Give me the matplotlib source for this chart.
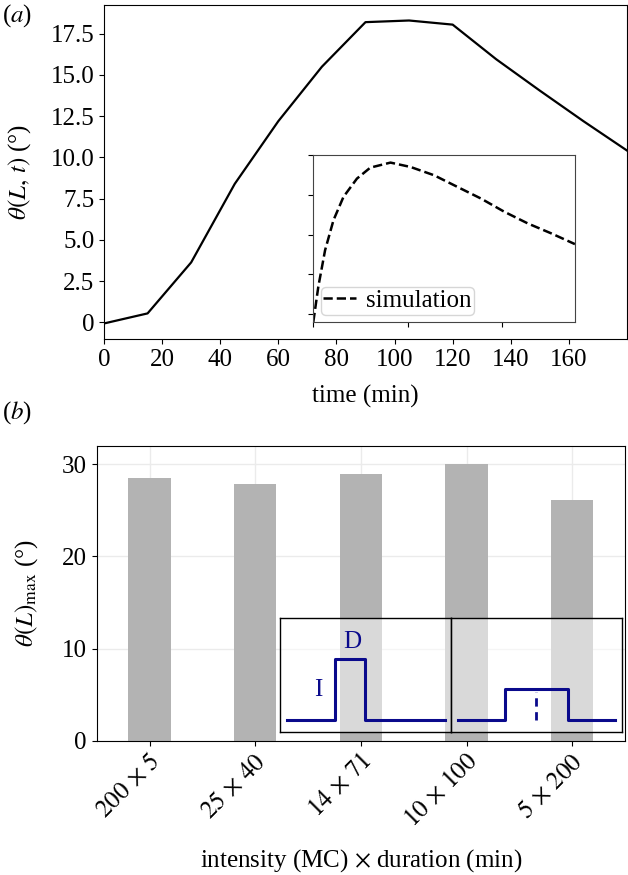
import matplotlib
matplotlib.use("Agg")
import matplotlib.pyplot as plt
import numpy as np

plt.rcParams["font.family"] = "serif"
plt.rcParams["font.serif"] = ["Liberation Serif", "DejaVu Serif"]
plt.rcParams["mathtext.fontset"] = "stix"

# ---- panel (a): measured tip angle over time
time_min = [0, 15, 30, 45, 60, 75, 90, 105, 120, 135, 150, 165, 180]
theta_exp = [-0.06, 0.55, 3.64, 8.4, 12.2, 15.5, 18.2, 18.3, 18.05, 15.95, 14.05, 12.2, 10.42]
a_yticks = [0, 2.5, 5, 7.5, 10, 12.5, 15, 17.5]
a_yticklabels = ["0", "2.5", "5.0", "7.5", "10.0", "12.5", "15.0", "17.5"]
a_xticks = [0, 20, 40, 60, 80, 100, 120, 140, 160]

# inset of (a): simulation curve
sim_t = [0, 5.3, 12.5, 21.4, 32.0, 46.3, 60.5, 81.9, 103.2, 128.1, 153.0, 177.9, 202.8, 227.8, 252.7, 277.6]
sim_theta = [-1.0, 3.43, 8.03, 11.8, 14.73, 17.03, 18.41, 19.04, 18.49, 17.45, 15.98, 14.52,
             12.85, 11.38, 10.13, 8.79]

# ---- panel (b): max angle per stimulation protocol
protocols = [r"$200\,\times\,5$", r"$25\,\times\,40$", r"$14\,\times\,71$",
             r"$10\,\times\,100$", r"$5\,\times\,200$"]
theta_max = [28.5, 27.8, 28.9, 30.0, 26.1]

# schematic stimulation profiles (inset of (b), unit box)
left_t = [0.04, 0.32, 0.32, 0.50, 0.50, 0.965]
left_v = [0.10, 0.10, 0.64, 0.64, 0.10, 0.10]
right_t = [0.042, 0.316, 0.316, 0.684, 0.684, 0.96]
right_v = [0.10, 0.10, 0.374, 0.374, 0.10, 0.10]

fs = 18
navy = "#0a0a8c"

fig = plt.figure(figsize=(6.28, 8.75), dpi=100)

# panel (a)
ax1 = fig.add_axes([0.1656, 0.6126, 0.8328, 0.3817])
ax1.plot(time_min, theta_exp, color="black", lw=1.6)
ax1.set_xlim(0, 180)
ax1.set_ylim(-1.0, 19.24)
ax1.set_xticks(a_xticks)
ax1.set_yticks(a_yticks)
ax1.set_yticklabels(a_yticklabels)
ax1.tick_params(labelsize=fs)
ax1.set_xlabel("time (min)", fontsize=fs)
ax1.set_ylabel(r"$\theta(L,\, t)$ (°)", fontsize=fs)
ax1.xaxis.set_label_coords(0.5, -0.138)
ax1.yaxis.set_label_coords(-0.136, 0.5)

axin = fig.add_axes([0.4989, 0.632, 0.4172, 0.1909])
axin.plot(sim_t, sim_theta, color="black", lw=1.8, ls="--", label="simulation")
axin.set_xlim(0, 278)
axin.set_ylim(-1.0, 20.0)
axin.set_xticks([0, 100, 200])
axin.set_yticks([0, 5, 10, 15, 20])
axin.set_xticklabels([])
axin.set_yticklabels([])
for sp in axin.spines.values():
    sp.set_color("#444444")
axin.legend(loc="lower left", fontsize=fs, handlelength=1.3, handletextpad=0.4,
            borderpad=0.1, borderaxespad=0.3, edgecolor="#cccccc")

# panel (b)
ax2 = fig.add_axes([0.154, 0.1535, 0.8412, 0.3371])
x = np.arange(len(protocols))
ax2.set_axisbelow(True)
ax2.grid(True, color="#ebebeb", lw=1)
ax2.bar(x, theta_max, width=0.4, color="#b3b3b3")
ax2.set_xlim(-0.5, 4.5)
ax2.set_ylim(0, 32)
ax2.set_yticks([0, 10, 20, 30])
ax2.set_xticks(x)
ax2.set_xticklabels(protocols, rotation=45, ha="right", rotation_mode="anchor")
ax2.tick_params(labelsize=fs)
ax2.set_xlabel(r"intensity (MC) $\times$ duration (min)", fontsize=fs)
ax2.set_ylabel(r"$\theta(L)_{\max}$ (°)", fontsize=fs)
ax2.xaxis.set_label_coords(0.5, -0.36)
ax2.yaxis.set_label_coords(-0.107, 0.5)

# schematic insets
for x0, ts, vs in [(0.3466, left_t, left_v), (0.6703, right_t, right_v)]:
    sub = ax2.inset_axes([x0, 0.0305, 0.3237, 0.3844])
    sub.set_facecolor((1, 1, 1, 0.5))
    sub.plot(ts, vs, color=navy, lw=2.2)
    sub.set_xlim(0, 1)
    sub.set_ylim(0, 1)
    sub.set_xticks([])
    sub.set_yticks([])
    for sp in sub.spines.values():
        sp.set_color("black")
        sp.set_linewidth(1.0)
    if x0 < 0.5:
        sub.text(0.224, 0.368, "I", color=navy, fontsize=fs, ha="center", va="center")
        sub.text(0.422, 0.794, "D", color=navy, fontsize=fs, ha="center", va="center")
    else:
        sub.plot([0.496, 0.496], [0.10, 0.353], color=navy, lw=2.0, ls=(0, (3, 2)))

fig.text(0.003, 0.9817, "($a$)", fontsize=fs, va="center", ha="left")
fig.text(0.003, 0.528, "($b$)", fontsize=fs, va="center", ha="left")

fig.savefig("out.png", dpi=100)
